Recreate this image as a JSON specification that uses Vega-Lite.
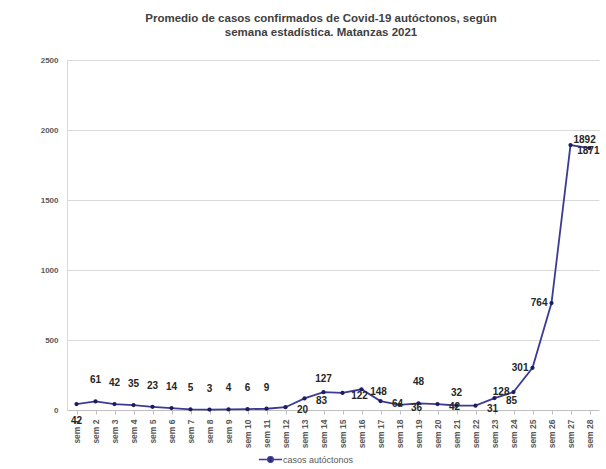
{
  "$schema": "https://vega.github.io/schema/vega-lite/v6.json",
  "width": 532,
  "height": 350,
  "autosize": {"type": "none"},
  "padding": {"left": 67, "top": 60, "right": 7, "bottom": 59},
  "background": "white",
  "title": {
    "text": ["Promedio de casos confirmados de Covid-19 autóctonos,  según", "semana estadística. Matanzas 2021"],
    "font": "Liberation Sans",
    "fontSize": 11.5,
    "fontWeight": "bold",
    "color": "#404040",
    "lineHeight": 14,
    "offset": 18,
    "dx": -12,
    "anchor": "middle"
  },
  "config": {
    "view": {"stroke": null},
    "font": "Liberation Sans"
  },
  "data": {
    "values": [
      {"n": 1, "week": "sem 1", "v": 42},
      {"n": 2, "week": "sem 2", "v": 61},
      {"n": 3, "week": "sem 3", "v": 42},
      {"n": 4, "week": "sem 4", "v": 35},
      {"n": 5, "week": "sem 5", "v": 23},
      {"n": 6, "week": "sem 6", "v": 14},
      {"n": 7, "week": "sem 7", "v": 5},
      {"n": 8, "week": "sem 8", "v": 3},
      {"n": 9, "week": "sem 9", "v": 4},
      {"n": 10, "week": "sem 10", "v": 6},
      {"n": 11, "week": "sem 11", "v": 9},
      {"n": 12, "week": "sem 12", "v": 20},
      {"n": 13, "week": "sem 13", "v": 83},
      {"n": 14, "week": "sem 14", "v": 127},
      {"n": 15, "week": "sem 15", "v": 122},
      {"n": 16, "week": "sem 16", "v": 148},
      {"n": 17, "week": "sem 17", "v": 64},
      {"n": 18, "week": "sem 18", "v": 36},
      {"n": 19, "week": "sem 19", "v": 48},
      {"n": 20, "week": "sem 20", "v": 42},
      {"n": 21, "week": "sem 21", "v": 32},
      {"n": 22, "week": "sem 22", "v": 31},
      {"n": 23, "week": "sem 23", "v": 85},
      {"n": 24, "week": "sem 24", "v": 128},
      {"n": 25, "week": "sem 25", "v": 301},
      {"n": 26, "week": "sem 26", "v": 764},
      {"n": 27, "week": "sem 27", "v": 1892},
      {"n": 28, "week": "sem 28", "v": 1871}
    ]
  },
  "encoding": {
    "x": {
      "field": "week",
      "type": "ordinal",
      "sort": {"field": "n"},
      "scale": {"type": "point", "padding": 0.5},
      "axis": {
        "title": null,
        "labelAngle": -90,
        "labelFont": "Liberation Sans",
        "labelFontSize": 8.5,
        "labelFontWeight": "bold",
        "labelColor": "#595959",
        "labelPadding": 5,
        "domainColor": "#BFBFBF",
        "tickColor": "#BFBFBF",
        "tickSize": 4,
        "grid": false
      }
    },
    "y": {
      "field": "v",
      "type": "quantitative",
      "scale": {"domain": [0, 2500], "nice": false},
      "axis": {
        "title": null,
        "values": [0, 500, 1000, 1500, 2000, 2500],
        "format": "d",
        "labelFont": "Liberation Sans",
        "labelFontSize": 8,
        "labelFontWeight": "bold",
        "labelColor": "#595959",
        "labelPadding": 9,
        "ticks": false,
        "domainColor": "#D9D9D9",
        "gridColor": "#D9D9D9",
        "gridWidth": 1
      }
    }
  },
  "layer": [
    {
      "mark": {"type": "line", "strokeWidth": 1.8},
      "encoding": {
        "color": {
          "datum": "casos autóctonos",
          "type": "nominal",
          "scale": {"range": ["#3B3B96"]},
          "legend": {
            "title": null,
            "orient": "none",
            "legendX": 195,
            "legendY": 391,
            "labelFont": "Liberation Sans",
            "labelFontSize": 9,
            "labelColor": "#595959",
            "symbolType": "M-1.5,0L1.5,0M-0.35,0A0.35,0.35 0 1,1 0.35,0A0.35,0.35 0 1,1 -0.35,0Z",
            "symbolSize": 240,
            "symbolStrokeWidth": 1.5,
            "symbolFillColor": "#1C1C5E",
            "symbolStrokeColor": "#3B3B96"
          }
        }
      }
    },
    {
      "mark": {"type": "point", "filled": true, "size": 18, "color": "#1C1C5E", "opacity": 1}
    },
    {
      "transform": [{"filter": {"field": "n", "oneOf": [1]}}],
      "mark": {"type": "text", "dy": 17, "fontSize": 10, "fontWeight": "bold", "color": "#262626"},
      "encoding": {"text": {"field": "v", "type": "quantitative"}}
    },
    {
      "transform": [{"filter": {"field": "n", "oneOf": [2, 3, 4, 5, 6, 7, 8, 9, 10, 11, 19]}}],
      "mark": {"type": "text", "dy": -21, "fontSize": 10, "fontWeight": "bold", "color": "#262626"},
      "encoding": {"text": {"field": "v", "type": "quantitative"}}
    },
    {
      "transform": [{"filter": {"field": "n", "oneOf": [14, 21]}}],
      "mark": {"type": "text", "dy": -13, "fontSize": 10, "fontWeight": "bold", "color": "#262626"},
      "encoding": {"text": {"field": "v", "type": "quantitative"}}
    },
    {
      "transform": [{"filter": {"field": "n", "oneOf": [12, 13, 15, 16, 17, 18, 20, 22, 23]}}],
      "mark": {"type": "text", "dx": 17, "dy": 3, "fontSize": 10, "fontWeight": "bold", "color": "#262626"},
      "encoding": {"text": {"field": "v", "type": "quantitative"}}
    },
    {
      "transform": [{"filter": {"field": "n", "oneOf": [24, 25, 26]}}],
      "mark": {"type": "text", "align": "right", "dx": -4, "dy": 0, "fontSize": 10, "fontWeight": "bold", "color": "#262626"},
      "encoding": {"text": {"field": "v", "type": "quantitative"}}
    },
    {
      "transform": [{"filter": {"field": "n", "oneOf": [27]}}],
      "mark": {"type": "text", "align": "left", "dx": 3, "dy": -5, "fontSize": 10, "fontWeight": "bold", "color": "#262626"},
      "encoding": {"text": {"field": "v", "type": "quantitative"}}
    },
    {
      "transform": [{"filter": {"field": "n", "oneOf": [28]}}],
      "mark": {"type": "text", "align": "right", "dx": 10, "dy": 3, "fontSize": 10, "fontWeight": "bold", "color": "#262626"},
      "encoding": {"text": {"field": "v", "type": "quantitative"}}
    }
  ]
}
